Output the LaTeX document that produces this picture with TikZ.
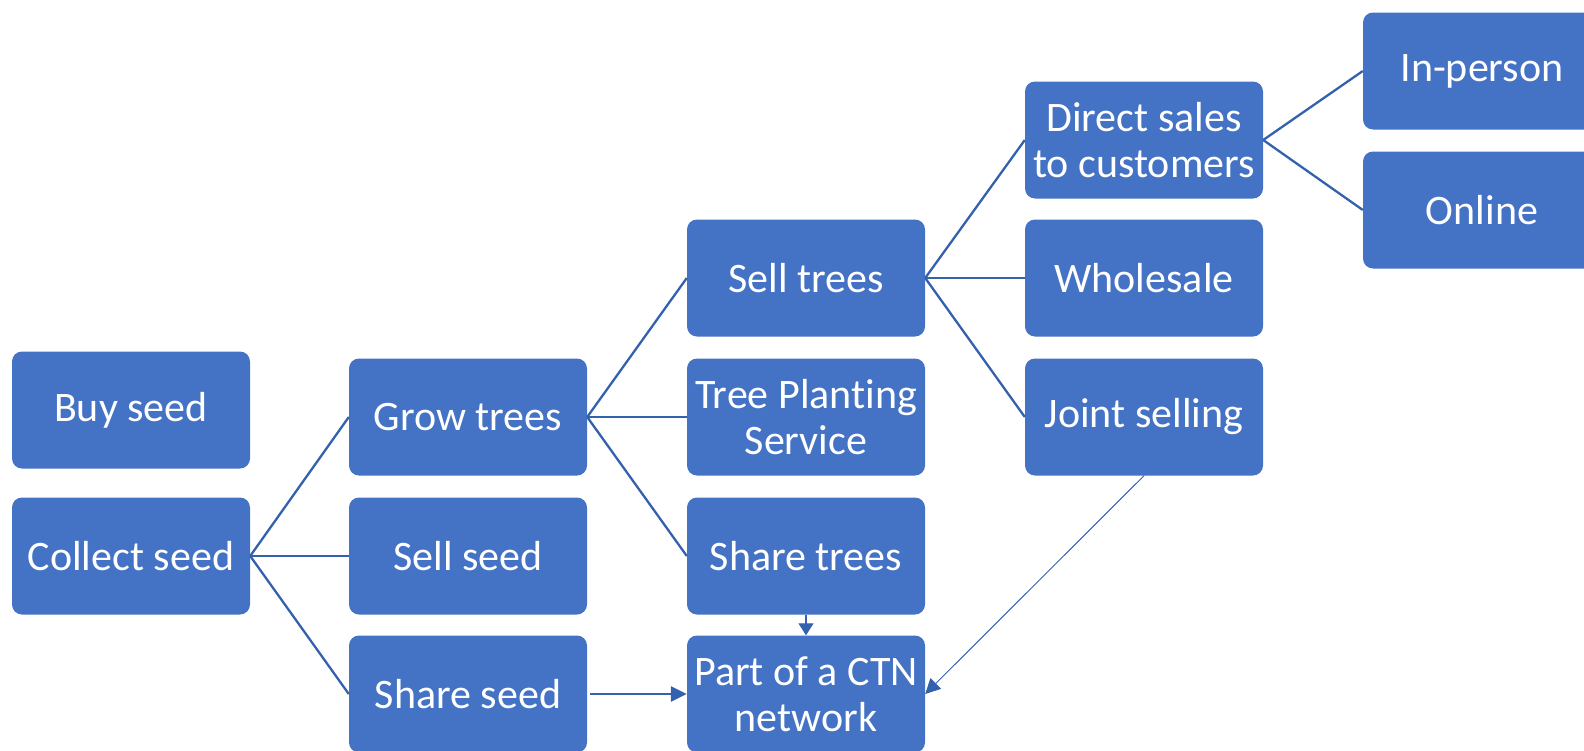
\documentclass[tikz,border=0pt]{standalone}
\usepackage{fontspec}
\setmainfont{Carlito}[Ligatures=NoCommon]
\usetikzlibrary{arrows.meta}
\definecolor{boxblue}{HTML}{4472C4}
\definecolor{linkblue}{HTML}{3461AE}
\begin{document}
\begin{tikzpicture}[x=1pt,y=1pt,
  box/.style={fill=boxblue, draw=none, rounded corners=10pt,
    minimum width=238pt, minimum height=117pt, inner sep=0pt,
    text=white, align=center,
    font=\fontsize{42}{46}\selectfont},
  link/.style={draw=linkblue, line width=2.3pt},
  feed/.style={draw=linkblue, -{Triangle[length=15pt,width=15pt]}}
]
\useasboundingbox (0,0) rectangle (1584,-750);
\clip (0,0) rectangle (1584,-750);

% first column: sources of seed
\node[box] (buy)     at (131,-410) {Buy seed};
\node[box] (collect) at (131,-556) {Collect seed};

% second column
\node[box] (grow)     at (468,-417) {Grow trees};
\node[box] (sellseed) at (468,-556) {Sell seed};
\node[box] (shareseed)at (468,-694) {Share seed};

% third column
\node[box] (selltrees) at (806,-278) {Sell trees};
\node[box] (planting)  at (806,-417) {Tree Planting\\Service};
\node[box] (sharetrees)at (806,-556) {Share trees};
\node[box] (ctn)       at (806,-694) {Part of a CTN\\network};

% fourth column
\node[box] (direct)    at (1144,-140) {Direct sales\\to customers};
\node[box] (wholesale) at (1144,-278) {Wholesale};
\node[box] (joint)     at (1144,-417) {Joint selling};

% fifth column
\node[box] (inperson) at (1482,-71)  {In-person};
\node[box] (online)   at (1482,-210) {Online};

% hierarchy links
\foreach \c in {grow,sellseed,shareseed}
  \draw[link] (collect.east) -- (\c.west);
\foreach \c in {selltrees,planting,sharetrees}
  \draw[link] (grow.east) -- (\c.west);
\foreach \c in {direct,wholesale,joint}
  \draw[link] (selltrees.east) -- (\c.west);
\foreach \c in {inperson,online}
  \draw[link] (direct.east) -- (\c.west);

% links into the network
\draw[feed, line width=2.8pt, shorten <=3pt,
      -{Triangle[length=16pt,width=15pt]}] (shareseed.east) -- (ctn.west);
\draw[feed, line width=1.3pt,
      -{Triangle[length=12pt,width=15pt]}] (sharetrees.south) -- (ctn.north);
\draw[feed, line width=1pt] (joint.south) -- (ctn.east);
\end{tikzpicture}
\end{document}
